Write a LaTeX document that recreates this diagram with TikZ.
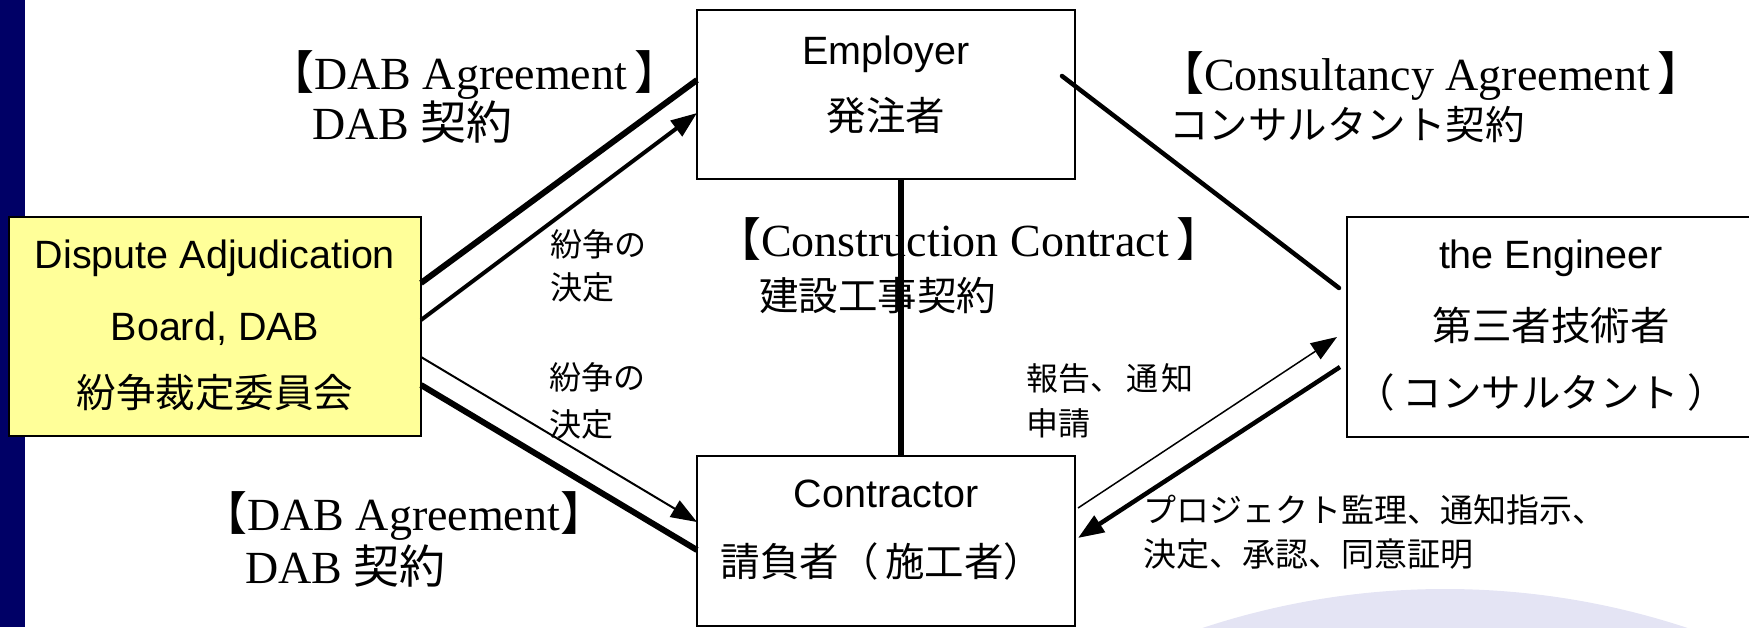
\documentclass[tikz,border=0pt]{standalone}
\usepackage{fontspec}
\setmainfont{Liberation Sans}
\newfontfamily\cjk{Noto Sans CJK JP}
\newfontfamily\serifL{Liberation Serif}
\usetikzlibrary{arrows.meta,calc}
\definecolor{navy}{RGB}{0,0,102}
\definecolor{lav}{RGB}{228,228,244}
\definecolor{boxyellow}{RGB}{255,255,153}
\tikzset{
  box/.style={draw=black, line width=2.5pt, inner sep=0pt, outer sep=0pt},
  sansL/.style={font=\fontsize{39.5}{41}\selectfont, anchor=base, inner sep=0pt},
  cjkL/.style={font=\cjk\fontsize{39.5}{41}\selectfont, anchor=base, inner sep=0pt},
  serL/.style={font=\serifL\fontsize{46}{48}\selectfont, anchor=base west, inner sep=0pt},
  cjkM/.style={font=\cjk\fontsize{39.5}{41}\selectfont, anchor=base west, inner sep=0pt},
  smallL/.style={font=\cjk\fontsize{32}{34}\selectfont, anchor=base west, inner sep=0pt},
  heavy/.style={line width=6pt},
  medium/.style={line width=4.5pt},
  tip/.style={-{Triangle[length=26pt,width=19pt]}}
}
\begin{document}
\begin{tikzpicture}[x=1pt,y=-1pt]
\useasboundingbox (0,0) rectangle (1749,627);
% watermark
\begin{scope}
\clip (0,0) rectangle (1749,627);
\fill[lav] (1445,1359) circle (770);
\end{scope}
% navy side bar
\fill[navy] (0,0) rectangle (25,627);

% boxes
\node[box, fill=boxyellow, minimum width=412pt, minimum height=219pt] (dab) at (215,326.5) {};
\node[box, fill=white, minimum width=378pt, minimum height=169pt] (emp) at (886,94.5) {};
\node[box, fill=white, minimum width=378pt, minimum height=170pt] (con) at (886,541) {};
\node[box, fill=white, minimum width=453pt, minimum height=220pt] (eng) at (1573.5,327) {};

% box texts
\node[sansL] (dab1) at (215,268) {Dispute Adjudication};
\node[sansL] (dab2) at (215,340) {Board, DAB};
\node[cjkL] (dab3) at (215,407) {紛争裁定委員会};
\node[sansL] (emp1) at (886,64) {Employer};
\node[cjkL] (emp2) at (886,130) {発注者};
\node[sansL] (con1) at (886,507) {Contractor};
\node[cjkL] (con2) at (882,576) {請負者（\,施工者）};
\node[sansL] (eng1) at (1551,268) {the Engineer};
\node[cjkL] (eng2) at (1551,340) {第三者技術者};
\node[cjkL] (eng3) at (1541,407) {（\hspace{8pt}コンサルタント\hspace{8pt}）};

% contract labels
\node[serL] (la1) at (268,89) {{\cjk 【}DAB Agreement\,{\cjk 】}};
\node[serL] (la2) at (312,139) {DAB {\cjk 契約}};
\node[serL] (lb1) at (201,530) {{\cjk 【}DAB Agreement{\cjk 】}};
\node[serL] (lb2) at (245,583) {DAB {\cjk 契約}};
\node[serL] (lc1) at (715,256) {{\cjk 【}Construction Contract\,{\cjk 】}};
\node[cjkM] (lc2) at (759,310) {建設工事契約};
\node[serL] (ld1) at (1158,90) {{\cjk 【}Consultancy Agreement\,{\cjk 】}};
\node[cjkM] (ld2) at (1169,139) {コンサルタント契約};

% small labels
\node[smallL] (s1) at (550,256) {紛争の};
\node[smallL] (s2) at (550,299) {決定};
\node[smallL] (s3) at (549,389) {紛争の};
\node[smallL] (s4) at (549,436) {決定};
\node[smallL] (s5) at (1026,390) {報告、\hspace{4pt}通\hspace{3pt}知};
\node[smallL] (s6) at (1026,435) {申請};
\node[smallL,font=\cjk\fontsize{33}{35}\selectfont] (s7) at (1143,522) {プロジェクト監理、通知指示、};
\node[smallL,font=\cjk\fontsize{33}{35}\selectfont] (s8) at (1143,566) {決定、承認、同意証明};

% connectors
\draw[heavy] ($(dab.north east)+(0,66)$) -- ($(emp.north west)+(0,70)$);
\draw[line width=4pt, tip] ($(dab.north east)+(0,103)$) -- ($(emp.north west)+(0,103)$);
\draw[line width=2pt, tip] ($(dab.north east)+(0,140)$) -- ($(con.north west)+(0,66)$);
\draw[heavy] ($(dab.north east)+(0,168)$) -- ($(con.north west)+(0,94)$);
\draw[heavy] ($(emp.south)+(15,0)$) -- ($(con.north)+(15,0)$);
\draw[medium, line cap=round] ($(emp.north east)+(-13,66)$) -- ($(eng.north west)+(-8,71)$);
\draw[line width=1.5pt, tip] ($(con.north east)+(3,52)$) -- ($(eng.north west)+(-10,120)$);
\draw[medium, tip] ($(eng.north west)+(-7,150)$) -- ($(con.north east)+(3,82)$);
\end{tikzpicture}
\end{document}
